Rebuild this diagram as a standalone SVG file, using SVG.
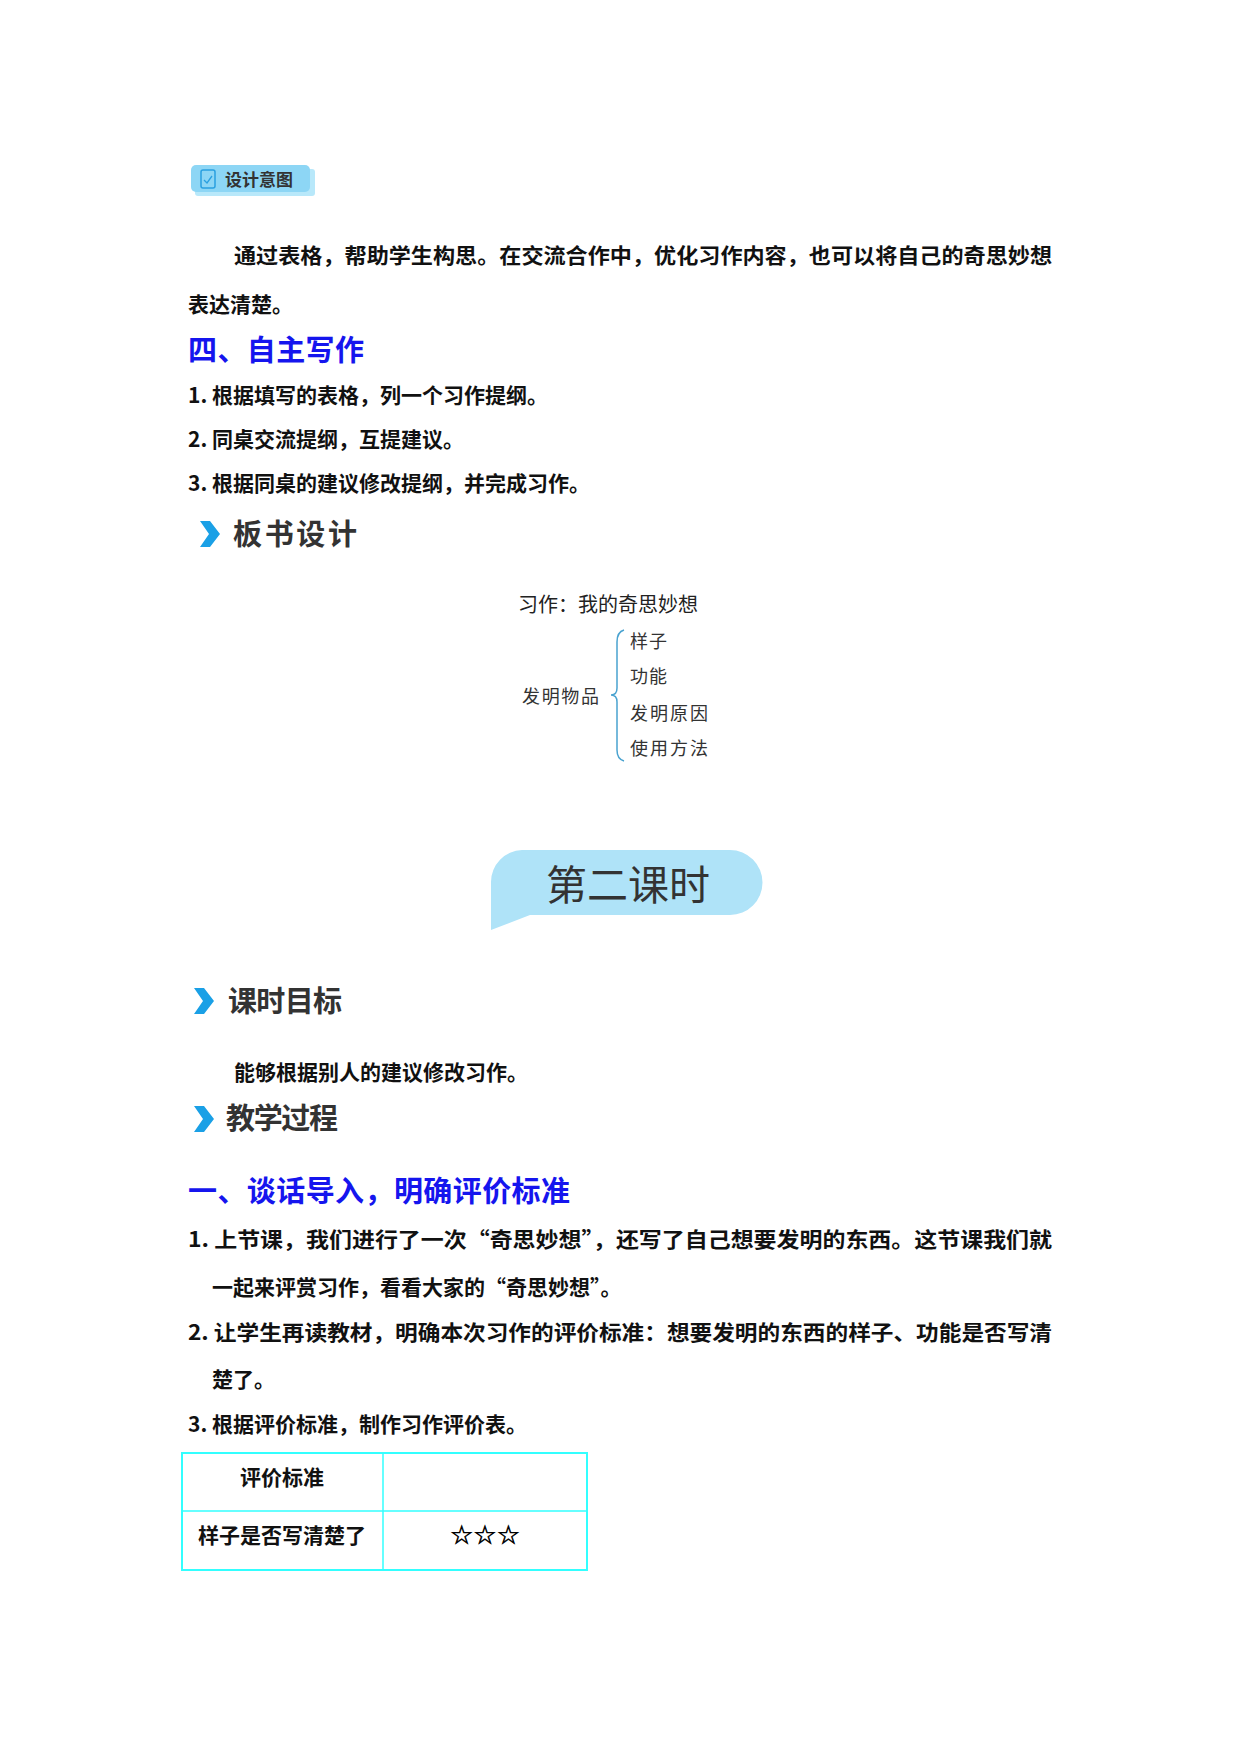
<svg xmlns="http://www.w3.org/2000/svg" width="1240" height="1754" viewBox="0 0 1240 1754">
<style>
.b{font-family:"Noto Sans CJK SC","Liberation Sans",sans-serif;font-weight:bold;font-size:21px;fill:#111}
.h{font-family:"Noto Sans CJK SC",sans-serif;font-weight:bold;font-size:29px;fill:#1515ee}
.s{font-family:"Noto Sans CJK SC",sans-serif;font-weight:bold;font-size:29px;fill:#333}
.r{font-family:"Noto Sans CJK SC",sans-serif;font-size:18px;fill:#333}
.chev{fill:#1aa0e6}
</style>
<rect width="1240" height="1754" fill="#fff"/>
<g id="badge">
<rect x="195" y="169" width="120" height="27" rx="3" fill="#b8e8fa"/>
<rect x="191" y="165" width="119" height="27" rx="5" fill="#8dd6f5"/>
<rect x="201" y="170" width="14" height="18" rx="2" fill="none" stroke="#2aa0e0" stroke-width="1.5"/>
<path d="M204 180 L207 183 L212 176" fill="none" stroke="#2aa0e0" stroke-width="1.3"/>
<text x="225" y="186" style="font-family:'Noto Sans CJK SC',sans-serif;font-weight:bold;font-size:17px;fill:#333">设计意图</text>
</g>
<g id="intent">
<text class="b" x="234" y="263" textLength="818" lengthAdjust="spacingAndGlyphs">通过表格，帮助学生构思。在交流合作中，优化习作内容，也可以将自己的奇思妙想</text>
<text class="b" x="188" y="312">表达清楚。</text>
</g>
<g id="sec4">
<text class="h" x="188" y="361" textLength="176">四、自主写作</text>
<text class="b" x="188" y="403">1. 根据填写的表格，列一个习作提纲。</text>
<text class="b" x="188" y="447">2. 同桌交流提纲，互提建议。</text>
<text class="b" x="188" y="491">3. 根据同桌的建议修改提纲，并完成习作。</text>
</g>
<g id="board-title">
<path class="chev" d="M200 521 L210 521 L220 534 L210 547 L200 547 L209 534 Z"/>
<text class="s" x="233" y="545" textLength="124">板书设计</text>
</g>
<g id="board">
<text x="518" y="612" style="font-family:'Noto Sans CJK SC',sans-serif;font-size:20px;fill:#222">习作：我的奇思妙想</text>
<text class="r" x="522" y="703" textLength="77">发明物品</text>
<path d="M624 630 Q617 632 617 642 L617 688 Q617 695 611 695 Q617 695 617 702 L617 750 Q617 759 624 761" fill="none" stroke="#4aa3d0" stroke-width="1.5"/>
<text class="r" x="630" y="648" textLength="37">样子</text>
<text class="r" x="630" y="683" textLength="37">功能</text>
<text class="r" x="630" y="720" textLength="78">发明原因</text>
<text class="r" x="630" y="755" textLength="78">使用方法</text>
</g>
<g id="lesson2">
<path d="M522 850 L730 850 A32 32 0 0 1 730 915 L530 915 L491 930 L491 882 A32 32 0 0 1 522 850 Z" fill="#afe3f8"/>
<text x="546" y="900" style="font-family:'Noto Sans CJK SC',sans-serif;font-size:41px;fill:#333" textLength="164">第二课时</text>
</g>
<g id="goal">
<path class="chev" d="M194 988 L204 988 L214 1001 L204 1014 L194 1014 L203 1001 Z"/>
<text class="s" x="228" y="1012" textLength="114">课时目标</text>
<text class="b" x="234" y="1080">能够根据别人的建议修改习作。</text>
</g>
<g id="process">
<path class="chev" d="M194 1106 L204 1106 L214 1119 L204 1132 L194 1132 L203 1119 Z"/>
<text class="s" x="226" y="1129" textLength="112">教学过程</text>
</g>
<g id="sec1">
<text class="h" x="188" y="1202" textLength="382">一、谈话导入，明确评价标准</text>
<text class="b" x="188" y="1247" textLength="864" lengthAdjust="spacingAndGlyphs">1. 上节课，我们进行了一次“奇思妙想”，还写了自己想要发明的东西。这节课我们就</text>
<text class="b" x="212" y="1295">一起来评赏习作，看看大家的“奇思妙想”。</text>
<text class="b" x="188" y="1340" textLength="864" lengthAdjust="spacingAndGlyphs">2. 让学生再读教材，明确本次习作的评价标准：想要发明的东西的样子、功能是否写清</text>
<text class="b" x="212" y="1387">楚了。</text>
<text class="b" x="188" y="1432">3. 根据评价标准，制作习作评价表。</text>
</g>
<g id="table">
<rect x="182" y="1453" width="405" height="117" fill="none" stroke="#33ffff" stroke-width="2"/>
<line x1="383" y1="1453" x2="383" y2="1570" stroke="#33ffff" stroke-width="1.5"/>
<line x1="182" y1="1511" x2="587" y2="1511" stroke="#33ffff" stroke-width="1.5"/>
<text class="b" x="282" y="1485" text-anchor="middle">评价标准</text>
<text class="b" x="282" y="1543" text-anchor="middle">样子是否写清楚了</text>
<text x="485" y="1544" text-anchor="middle" style="font-family:'DejaVu Sans',sans-serif;font-size:26px;fill:#000;stroke:#000;stroke-width:0.6">☆☆☆</text>
</g>
</svg>
